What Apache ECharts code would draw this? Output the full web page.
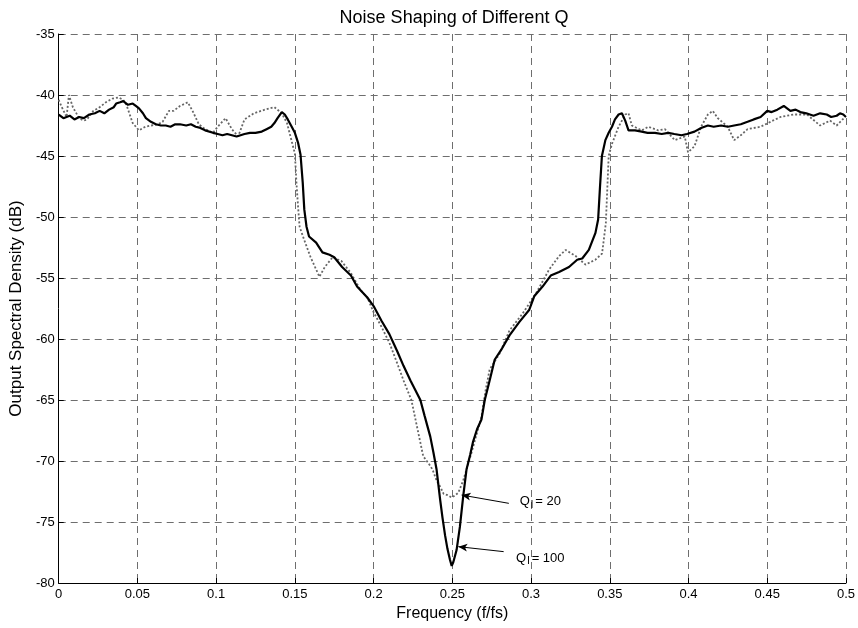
<!DOCTYPE html>
<html>
<head>
<meta charset="utf-8">
<script src="https://cdn.jsdelivr.net/npm/echarts@6/dist/echarts.min.js"></script>
<style>
  html, body { margin: 0; padding: 0; background: #fff; }
  #chart { width: 858px; height: 628px; }
</style>
</head>
<body>
<div id="chart"></div>
<script>
// Output spectral density for loaded Q = 100 (solid) and Q = 20 (dotted)
const freqQ100 = [0, 0.003, 0.007, 0.010, 0.013, 0.016, 0.0195, 0.023, 0.026, 0.029, 0.032, 0.035, 0.0365, 0.039, 0.041, 0.044, 0.047, 0.049, 0.051, 0.0535, 0.0554, 0.0586, 0.0617, 0.065, 0.068, 0.071, 0.074, 0.077, 0.081, 0.084, 0.087, 0.090, 0.093, 0.098, 0.101, 0.104, 0.107, 0.110, 0.113, 0.118, 0.1215, 0.125, 0.129, 0.132, 0.135, 0.137, 0.139, 0.1417, 0.1436, 0.1455, 0.148, 0.150, 0.152, 0.1536, 0.155, 0.156, 0.1574, 0.159, 0.1635, 0.1675, 0.172, 0.175, 0.180, 0.1856, 0.1895, 0.196, 0.200, 0.205, 0.210, 0.215, 0.219, 0.2234, 0.2297, 0.2324, 0.236, 0.238, 0.240, 0.2423, 0.2437, 0.2454, 0.2469, 0.2485, 0.2496, 0.2506, 0.2527, 0.2548, 0.2569, 0.259, 0.2613, 0.2632, 0.2657, 0.2685, 0.2706, 0.2737, 0.2769, 0.281, 0.2863, 0.2926, 0.2989, 0.302, 0.3073, 0.3125, 0.3178, 0.3241, 0.3293, 0.3325, 0.3367, 0.3409, 0.3426, 0.3438, 0.345, 0.3472, 0.3493, 0.3514, 0.3533, 0.3556, 0.3577, 0.3598, 0.3619, 0.366, 0.3703, 0.374, 0.3787, 0.383, 0.3871, 0.391, 0.3955, 0.399, 0.4038, 0.408, 0.4123, 0.416, 0.4207, 0.425, 0.429, 0.4332, 0.4375, 0.4414, 0.4458, 0.450, 0.4528, 0.4564, 0.4605, 0.4647, 0.468, 0.471, 0.4748, 0.4794, 0.4836, 0.4878, 0.4906, 0.4941, 0.4962, 0.4983, 0.500];
const levelQ100 = [-41.6, -41.9, -41.7, -42.0, -41.8, -41.9, -41.6, -41.5, -41.3, -41.5, -41.2, -41.0, -40.7, -40.6, -40.5, -40.8, -40.7, -40.9, -41.1, -41.5, -41.9, -42.2, -42.4, -42.5, -42.5, -42.6, -42.4, -42.4, -42.5, -42.4, -42.6, -42.7, -42.9, -43.1, -43.2, -43.3, -43.2, -43.3, -43.4, -43.2, -43.1, -43.1, -43.0, -42.8, -42.6, -42.3, -41.9, -41.4, -41.6, -42.0, -42.6, -43.1, -43.9, -44.9, -47.2, -49.4, -50.8, -51.6, -52.1, -52.9, -53.1, -53.3, -54.1, -54.8, -55.7, -56.6, -57.3, -58.5, -59.6, -61.0, -62.2, -63.4, -65.0, -66.3, -68.0, -69.3, -70.7, -73.2, -74.6, -76.1, -77.2, -78.1, -78.6, -78.3, -77.3, -75.4, -72.9, -70.7, -69.5, -68.4, -67.4, -66.6, -65.0, -63.4, -61.7, -60.9, -59.7, -58.6, -57.6, -56.5, -55.7, -54.8, -54.5, -54.1, -53.5, -53.4, -52.7, -51.3, -50.2, -47.5, -45.0, -43.7, -43.1, -42.6, -42.0, -41.6, -41.5, -42.1, -42.9, -42.9, -43.0, -43.1, -43.1, -43.2, -43.1, -43.2, -43.3, -43.2, -43.0, -42.7, -42.5, -42.6, -42.5, -42.6, -42.5, -42.4, -42.2, -42.0, -41.8, -41.3, -41.4, -41.2, -40.9, -41.3, -41.2, -41.4, -41.5, -41.7, -41.5, -41.6, -41.8, -41.7, -41.5, -41.6, -41.8];

const freqQ20 = [0, 0.002, 0.005, 0.0065, 0.007, 0.009, 0.013, 0.016, 0.018, 0.022, 0.026, 0.030, 0.034, 0.038, 0.041, 0.043, 0.047, 0.051, 0.055, 0.059, 0.063, 0.066, 0.070, 0.073, 0.077, 0.082, 0.085, 0.089, 0.093, 0.098, 0.101, 0.106, 0.110, 0.114, 0.118, 0.124, 0.131, 0.137, 0.1417, 0.145, 0.150, 0.151, 0.152, 0.153, 0.156, 0.160, 0.1656, 0.169, 0.174, 0.1795, 0.1856, 0.1918, 0.196, 0.200, 0.205, 0.210, 0.215, 0.219, 0.224, 0.2315, 0.236, 0.2374, 0.240, 0.2423, 0.2445, 0.247, 0.2496, 0.2519, 0.2538, 0.2569, 0.259, 0.262, 0.265, 0.2685, 0.271, 0.2737, 0.280, 0.2863, 0.2947, 0.303, 0.3115, 0.3178, 0.322, 0.3283, 0.3346, 0.3409, 0.3451, 0.3475, 0.3493, 0.3514, 0.3556, 0.3598, 0.3619, 0.364, 0.3703, 0.3745, 0.3808, 0.385, 0.3913, 0.3976, 0.3997, 0.4038, 0.408, 0.4123, 0.4154, 0.4186, 0.4249, 0.429, 0.4332, 0.4375, 0.4458, 0.452, 0.4584, 0.4668, 0.4752, 0.4836, 0.4899, 0.4941, 0.4994];
const levelQ20 = [-40.4, -41.0, -41.8, -40.0, -39.9, -41.0, -41.9, -42.1, -42.0, -41.3, -41.0, -40.6, -40.3, -40.2, -40.4, -40.8, -42.3, -42.9, -42.6, -42.5, -42.4, -42.2, -41.3, -41.3, -40.9, -40.6, -41.3, -42.4, -42.8, -43.1, -42.6, -41.9, -42.8, -43.4, -42.0, -41.5, -41.2, -41.0, -41.5, -42.3, -44.8, -47.2, -49.1, -50.8, -51.9, -53.3, -54.9, -54.1, -53.3, -53.6, -54.6, -56.0, -56.6, -57.8, -59.0, -60.3, -62.0, -63.4, -65.0, -69.6, -70.4, -70.7, -71.6, -72.1, -72.7, -72.8, -73.0, -72.8, -72.6, -71.6, -70.7, -69.4, -68.0, -66.4, -64.3, -62.5, -61.2, -59.3, -57.9, -56.3, -54.3, -53.2, -52.7, -53.2, -53.9, -53.5, -53.0, -50.5, -45.0, -44.0, -42.6, -41.6, -41.5, -42.5, -42.9, -42.6, -42.9, -42.8, -43.7, -43.4, -44.7, -44.2, -42.6, -41.6, -41.3, -41.9, -42.6, -43.7, -43.3, -42.8, -42.6, -42.2, -41.8, -41.6, -41.6, -42.5, -42.1, -42.5, -41.8];

// Annotation arrows: [tail, head] in data space, plus label anchor
const arrowQ20 = [[0.2859, -73.47], [0.2559, -72.79]];
const arrowQ100 = [[0.2826, -77.43], [0.2538, -77.02]];
const labelQ20 = [0.2928, -73.33];
const labelQ100 = [0.2905, -77.98];

const zip = (xs, ys) => xs.map((x, i) => [x, ys[i]]);

const FONT = '"Liberation Sans", Arial, Helvetica, sans-serif';
const gridDash = { color: '#6e6e6e', width: 1, type: [7, 5] };

const chart = echarts.init(document.getElementById('chart'), null, { renderer: 'canvas' });

const qLabel = (num) => ({
  show: true,
  position: 'right',
  distance: 0,
  formatter: '{a|Q}{b|l}{a|= ' + num + '}',
  rich: {
    a: { fontFamily: FONT, fontSize: 13, color: '#000' },
    b: { fontFamily: FONT, fontSize: 11, color: '#000', padding: [6, 2, 0, 1] }
  }
});

chart.setOption({
  animation: false,
  backgroundColor: '#fff',
  title: {
    text: 'Noise Shaping of Different Q',
    left: 449,
    textAlign: 'center',
    top: 4,
    textStyle: { fontFamily: FONT, fontSize: 18, fontWeight: 'normal', color: '#000' }
  },
  grid: { left: 52, right: 12, top: 34, bottom: 45, containLabel: false },
  xAxis: {
    type: 'value',
    min: 0, max: 0.5, interval: 0.05,
    name: 'Frequency (f/fs)',
    nameLocation: 'middle',
    nameGap: 21,
    nameTextStyle: { fontFamily: FONT, fontSize: 16, color: '#000', verticalAlign: 'top' },
    axisLine: { show: true, onZero: false, lineStyle: { color: '#000', width: 1 } },
    axisTick: { show: true, inside: true, length: 5, lineStyle: { color: '#000' } },
    axisLabel: {
      fontFamily: FONT, fontSize: 13, color: '#000', margin: 5,
      formatter: (v) => String(parseFloat(v.toFixed(2)))
    },
    splitLine: { show: true, lineStyle: gridDash }
  },
  yAxis: {
    type: 'value',
    min: -80, max: -35, interval: 5,
    name: 'Output Spectral Density (dB)',
    nameLocation: 'middle',
    nameGap: 28,
    nameTextStyle: { fontFamily: FONT, fontSize: 17, color: '#000' },
    axisLine: { show: true, onZero: false, lineStyle: { color: '#000', width: 1 } },
    axisTick: { show: true, inside: true, length: 5, lineStyle: { color: '#000' } },
    axisLabel: { fontFamily: FONT, fontSize: 13, color: '#000', margin: 4 },
    splitLine: { show: true, lineStyle: gridDash }
  },
  series: [
    {
      name: 'Q = 20',
      type: 'line',
      data: zip(freqQ20, levelQ20),
      showSymbol: false,
      symbol: 'none',
      lineStyle: { color: '#666', width: 1.8, type: [2, 2] },
      z: 2
    },
    {
      name: 'Q = 100',
      type: 'line',
      data: zip(freqQ100, levelQ100),
      showSymbol: false,
      symbol: 'none',
      lineStyle: { color: '#000', width: 2.2 },
      z: 3,
      markLine: {
        silent: true,
        symbol: ['none', 'arrow'],
        symbolSize: [6, 9],
        lineStyle: { color: '#000', width: 1, type: 'solid' },
        label: { show: false },
        data: [
          [{ coord: arrowQ20[0] }, { coord: arrowQ20[1] }],
          [{ coord: arrowQ100[0] }, { coord: arrowQ100[1] }]
        ]
      },
      markPoint: {
        silent: true,
        symbol: 'circle',
        symbolSize: 0,
        data: [
          { coord: labelQ20, label: qLabel(20) },
          { coord: labelQ100, label: qLabel(100) }
        ]
      }
    }
  ]
});
</script>
</body>
</html>
